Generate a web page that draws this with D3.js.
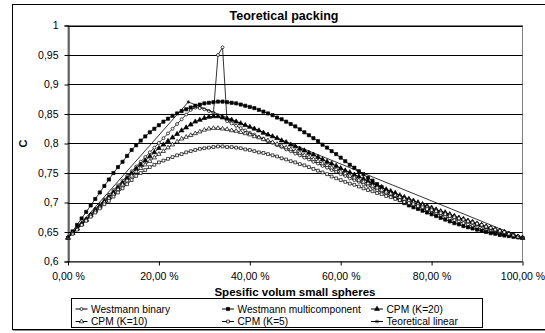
<!DOCTYPE html>
<html>
<head>
<meta charset="utf-8">
<script src="https://cdn.jsdelivr.net/npm/d3@7"></script>
<style>
  body { margin: 0; background: #fff; }
  svg { font-family: "Liberation Sans", Arial, sans-serif; }
</style>
</head>
<body>
<svg id="chart"></svg>
<script>
// volume fraction of small spheres, in percent
const volPct = [0,1,2,3,4,5,6,7,8,9,10,11,12,13,14,15,16,17,18,19,20,21,22,23,24,25,26,27,28,29,30,31,32,33,34,35,36,37,38,39,40,41,42,43,44,45,46,47,48,49,50,51,52,53,54,55,56,57,58,59,60,61,62,63,64,65,66,67,68,69,70,71,72,73,74,75,76,77,78,79,80,81,82,83,84,85,86,87,88,89,90,91,92,93,94,95,96,97,98,99,100]

const westmannBinary = [.640,.648,.656,.664,.672,.680,.689,.697,.705,.713,.721,.729,.737,.745,.753,.761,.769,.777,.785,.793,.801,.809,.817,.825,.833,.841,.849,.857,.861,.860,.858,.855,.852,.950,.963,.838,.834,.830,.826,.822,.818,.815,.811,.808,.804,.801,.797,.794,.790,.787,.783,.780,.776,.773,.769,.766,.762,.759,.755,.752,.748,.745,.741,.738,.735,.731,.728,.725,.721,.718,.715,.712,.708,.705,.702,.699,.696,.693,.690,.687,.684,.681,.679,.676,.673,.670,.668,.665,.663,.660,.658,.655,.653,.651,.649,.647,.645,.644,.642,.641,.640]

const westmannMulti = [.640,.651,.662,.673,.684,.695,.706,.717,.728,.739,.750,.760,.769,.779,.789,.797,.805,.812,.819,.825,.831,.837,.842,.847,.851,.855,.858,.861,.864,.866,.868,.869,.870,.871,.871,.870,.869,.868,.866,.864,.862,.860,.857,.854,.851,.848,.844,.841,.837,.833,.829,.824,.819,.814,.809,.804,.798,.793,.787,.782,.776,.770,.764,.759,.753,.748,.742,.737,.731,.726,.720,.715,.709,.704,.699,.695,.692,.689,.686,.683,.680,.677,.674,.671,.668,.665,.663,.660,.658,.656,.654,.652,.650,.648,.647,.645,.644,.643,.642,.641,.640]

const cpmK20 = [.640,.648,.656,.664,.671,.679,.687,.694,.702,.709,.717,.725,.733,.741,.749,.757,.764,.771,.778,.785,.792,.798,.804,.810,.816,.822,.827,.832,.837,.840,.843,.845,.846,.846,.844,.842,.840,.837,.834,.831,.828,.825,.822,.818,.815,.812,.809,.805,.802,.798,.795,.791,.788,.784,.781,.777,.773,.769,.766,.762,.758,.754,.751,.747,.744,.740,.736,.733,.729,.726,.722,.719,.716,.712,.709,.706,.703,.700,.697,.694,.691,.688,.685,.683,.680,.677,.674,.672,.669,.667,.664,.662,.659,.657,.654,.652,.650,.647,.645,.642,.640]

const cpmK10 = [.640,.648,.655,.663,.670,.678,.685,.692,.700,.707,.714,.722,.730,.737,.745,.752,.758,.764,.770,.776,.782,.787,.793,.798,.803,.808,.811,.814,.817,.820,.823,.825,.826,.826,.825,.824,.822,.821,.819,.817,.815,.812,.810,.807,.805,.802,.799,.796,.793,.790,.787,.784,.780,.777,.773,.770,.766,.763,.759,.756,.752,.749,.745,.742,.738,.735,.732,.728,.725,.721,.718,.715,.712,.709,.706,.703,.700,.697,.695,.692,.689,.686,.684,.681,.679,.676,.673,.671,.668,.666,.663,.661,.658,.656,.653,.651,.649,.647,.644,.642,.640]

const cpmK5 = [.640,.647,.654,.662,.669,.676,.683,.690,.697,.703,.710,.717,.724,.731,.738,.745,.750,.755,.760,.764,.768,.771,.774,.777,.780,.782,.785,.787,.789,.791,.792,.793,.794,.795,.795,.794,.794,.793,.792,.790,.789,.787,.785,.784,.782,.780,.778,.775,.773,.770,.768,.765,.763,.760,.757,.754,.751,.748,.744,.741,.738,.735,.732,.730,.727,.724,.721,.719,.716,.714,.711,.709,.706,.704,.701,.699,.697,.694,.692,.689,.687,.685,.682,.680,.677,.675,.673,.671,.668,.666,.664,.662,.659,.657,.654,.652,.650,.647,.645,.642,.640]

// theoretical line only has the three corner points
const linearPct = [0, 26.47, 100]
const linearC = [0.640, 0.8704, 0.640]

const seriesNames = ["Westmann binary", "Westmann multicomponent", "CPM (K=20)", "CPM (K=10)", "CPM (K=5)", "Teoretical linear"]
const xTicks = [0, 20, 40, 60, 80, 100]
const yTicks = [0.6, 0.65, 0.7, 0.75, 0.8, 0.85, 0.9, 0.95, 1]

document.addEventListener("DOMContentLoaded", function() {
    drawChart()
})

function drawChart() {
    let width = 545,
        height = 333,
        plot = { left: 68, right: 522.5, top: 25.5, bottom: 261.5 }

    let svg = d3.select("#chart")
        .attr("width", width)
        .attr("height", height)

    let nl = d3.formatLocale({ decimal: ",", thousands: " ", grouping: [3], currency: ["", ""] })
    let fmtX = v => nl.format(".2f")(v) + " %"
    let fmtY = v => nl.format("~g")(v)

    let x = d3.scaleLinear().domain([0, 100]).range([plot.left, plot.right])
    let y = d3.scaleLinear().domain([0.6, 1]).range([plot.bottom, plot.top])

    // outer chart frame (runs past the right edge of the picture)
    svg.append("rect")
        .attr("x", 12.5).attr("y", 4.5)
        .attr("width", 560).attr("height", 325)
        .attr("fill", "#fff")
        .attr("stroke", "#000")
    svg.append("line")
        .attr("x1", 13).attr("x2", 545).attr("y1", 330.5).attr("y2", 330.5)
        .attr("stroke", "#888")

    // plot area border
    svg.append("rect")
        .attr("x", plot.left).attr("y", plot.top)
        .attr("width", plot.right - plot.left).attr("height", plot.bottom - plot.top)
        .attr("fill", "none")
        .attr("stroke", "#808080")

    // horizontal gridlines
    svg.append("g")
        .selectAll("line")
        .data(yTicks.slice(1))
        .join("line")
        .attr("x1", plot.left).attr("x2", plot.right)
        .attr("y1", d => Math.round(y(d)) + 0.5).attr("y2", d => Math.round(y(d)) + 0.5)
        .attr("stroke", "#000")

    // axes
    let yAxis = svg.append("g")
        .attr("transform", `translate(${plot.left + 0.5},0)`)
        .call(d3.axisLeft(y).tickValues(yTicks).tickFormat(fmtY).tickSize(4).tickPadding(6))
    let xAxis = svg.append("g")
        .attr("transform", `translate(0,${plot.bottom})`)
        .call(d3.axisBottom(x).tickValues(xTicks).tickFormat(fmtX).tickSize(4).tickPadding(7))

    for (let ax of [xAxis, yAxis]) {
        ax.select(".domain").attr("stroke", "#000").attr("stroke-width", 1)
        ax.selectAll(".tick line").attr("stroke", "#000")
        ax.selectAll("text")
            .attr("font-family", "Liberation Sans, Arial, sans-serif")
            .attr("font-size", "10.5px")
            .attr("fill", "#000")
    }
    xAxis.select(".domain").attr("d", `M${plot.left},0.5H${plot.right}`)

    // titles
    svg.append("text")
        .attr("x", 284).attr("y", 19.5)
        .attr("text-anchor", "middle")
        .attr("font-weight", "bold").attr("font-size", "12.5px")
        .text("Teoretical packing")
    svg.append("text")
        .attr("x", 295).attr("y", 295.5)
        .attr("text-anchor", "middle")
        .attr("font-weight", "bold").attr("font-size", "11.5px")
        .text("Spesific volum small spheres")
    svg.append("text")
        .attr("transform", "translate(27,143.5) rotate(-90)")
        .attr("text-anchor", "middle")
        .attr("font-weight", "bold").attr("font-size", "11px")
        .text("C")

    let markers = [
        { sym: d3.symbolCircle, size: 7, fill: "#fff" },
        { sym: d3.symbolSquare, size: 10, fill: "#000" },
        { sym: d3.symbolTriangle, size: 10, fill: "#000" },
        { sym: d3.symbolTriangle, size: 8, fill: "#fff" },
        { sym: d3.symbolSquare, size: 8, fill: "#fff" },
        { sym: d3.symbolAsterisk, size: 9, fill: "#000" }
    ]

    let series = [
        { xs: volPct, ys: westmannBinary },
        { xs: volPct, ys: westmannMulti },
        { xs: volPct, ys: cpmK20 },
        { xs: volPct, ys: cpmK10 },
        { xs: volPct, ys: cpmK5 },
        { xs: linearPct, ys: linearC }
    ]

    let line = d3.line()
        .x(d => x(d[0]))
        .y(d => y(d[1]))

    let plotG = svg.append("g")
    series.forEach((s, i) => {
        let pts = s.xs.map((v, j) => [v, s.ys[j]])
        plotG.append("path")
            .datum(pts)
            .attr("fill", "none")
            .attr("stroke", "#000")
            .attr("stroke-width", 0.8)
            .attr("d", line)
        plotG.append("g")
            .selectAll("path")
            .data(pts)
            .join("path")
            .attr("transform", d => `translate(${x(d[0])},${y(d[1])})`)
            .attr("d", d3.symbol(markers[i].sym, markers[i].size))
            .attr("fill", markers[i].fill)
            .attr("stroke", "#000")
            .attr("stroke-width", 0.7)
    })

    // legend
    let lg = svg.append("g")
    lg.append("rect")
        .attr("x", 71.5).attr("y", 298.5)
        .attr("width", 411).attr("height", 29)
        .attr("fill", "#fff").attr("stroke", "#000")
    let colX = [75.5, 222, 371]
    let rowY = [309, 321.5]
    seriesNames.forEach((name, i) => {
        let cx = colX[i % 3], cy = rowY[Math.floor(i / 3)]
        lg.append("line")
            .attr("x1", cx).attr("x2", cx + 12)
            .attr("y1", cy).attr("y2", cy)
            .attr("stroke", "#000")
        lg.append("path")
            .attr("transform", `translate(${cx + 6},${cy})`)
            .attr("d", d3.symbol(markers[i].sym, markers[i].size))
            .attr("fill", markers[i].fill)
            .attr("stroke", "#000")
            .attr("stroke-width", 0.7)
        lg.append("text")
            .attr("x", cx + 15.5).attr("y", cy)
            .attr("dy", "0.35em")
            .attr("font-size", "10.2px")
            .text(name)
    })
}
</script>
</body>
</html>
